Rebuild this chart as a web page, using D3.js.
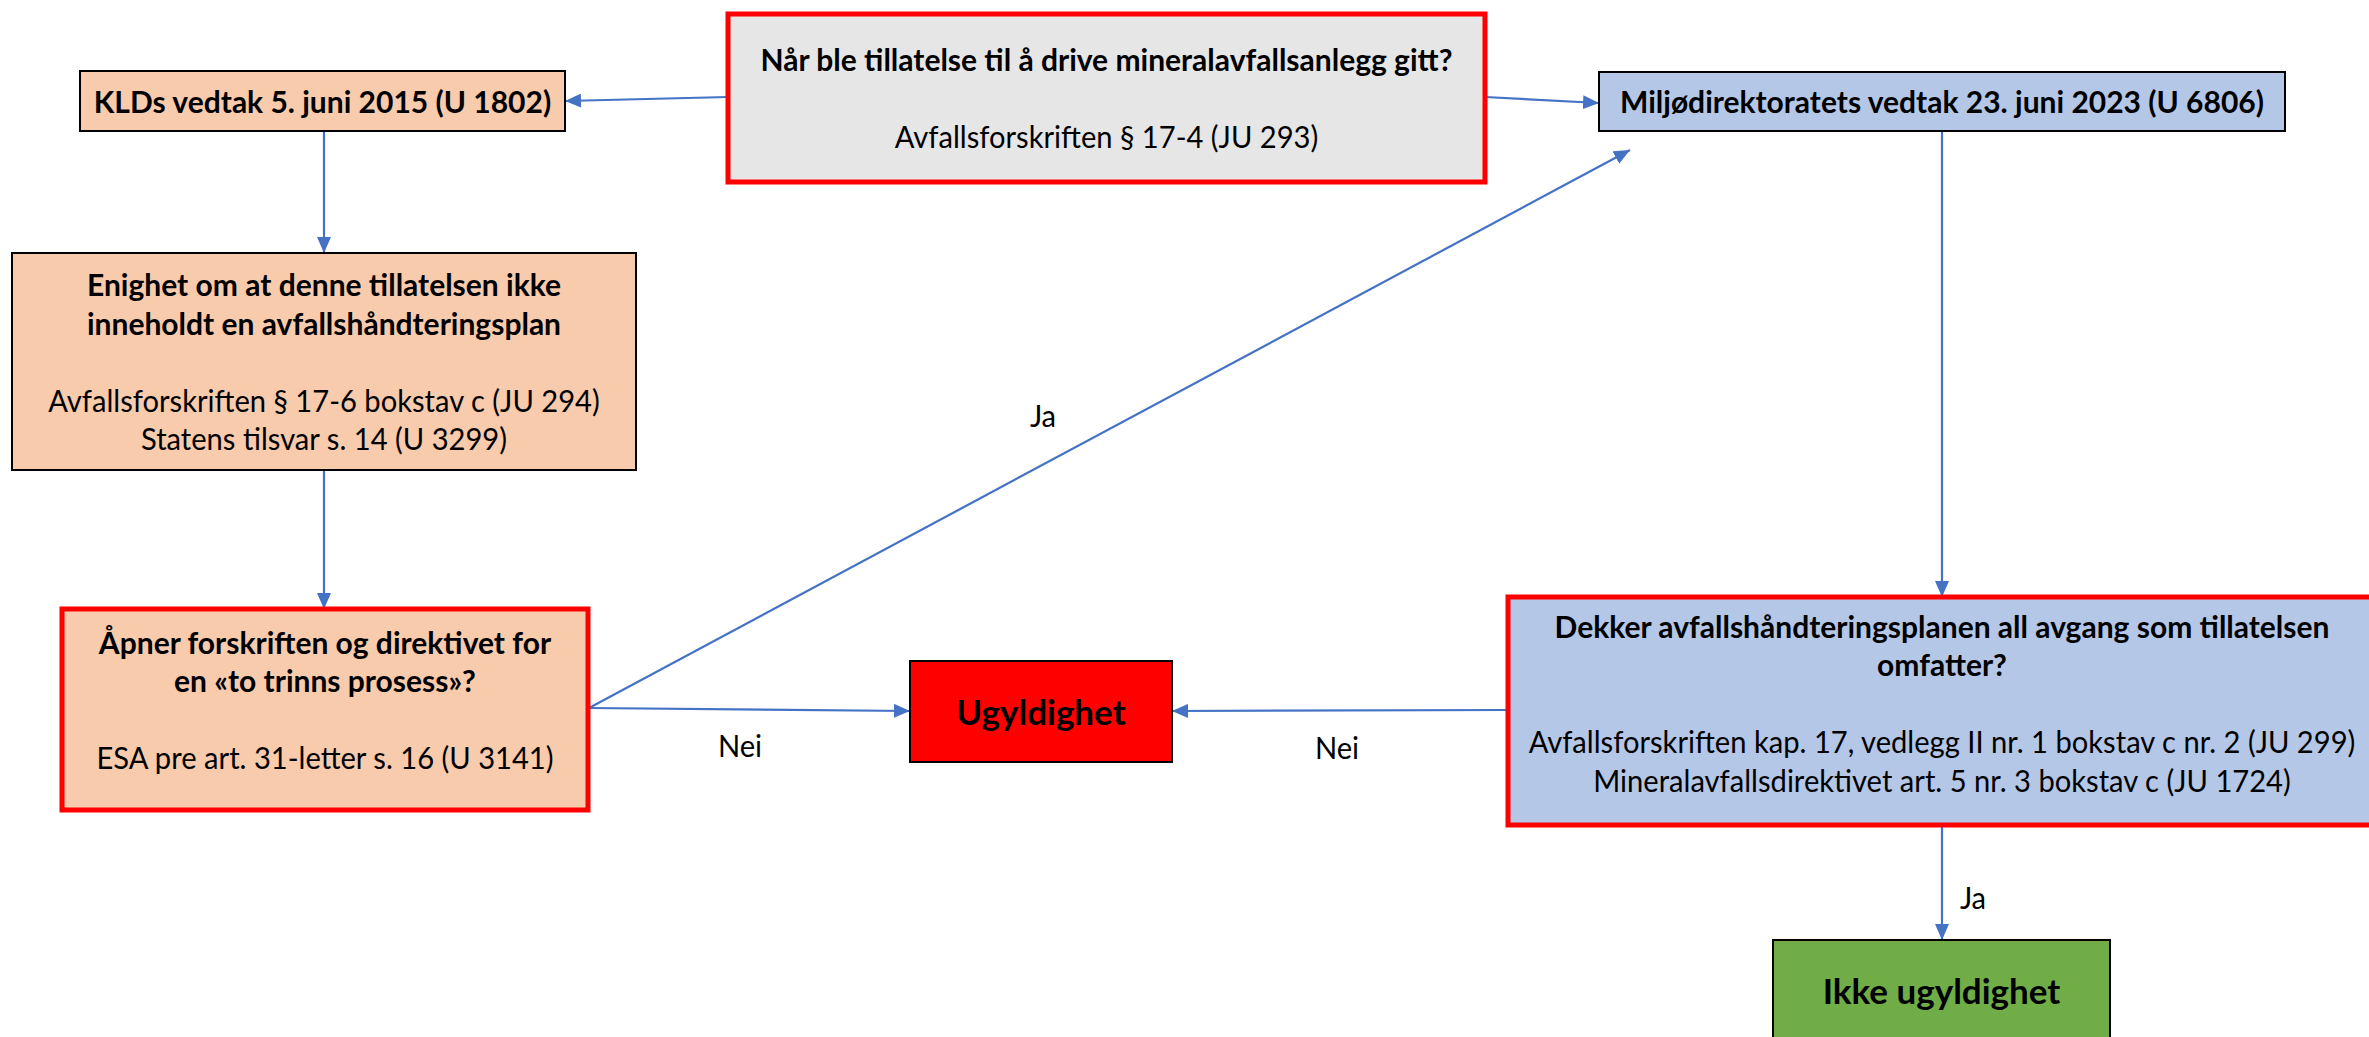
<!DOCTYPE html>
<html>
<head>
<meta charset="utf-8">
<script src="https://cdn.jsdelivr.net/npm/d3@7"></script>
<style>
  body { margin: 0; background: #fff; }
  svg { display: block; }
  text { font-family: Lato, "Noto Sans", sans-serif; fill: #000; }
</style>
</head>
<body>
<div id="chart"></div>
<script>
// --- data ---
const boxIds = ["kld", "sporsmal", "miljo", "enighet", "apner", "ugyldig", "dekker", "ikke"];
const boxTitles = [
  ["KLDs vedtak 5. juni 2015 (U 1802)"],
  ["Når ble tillatelse til å drive mineralavfallsanlegg gitt?"],
  ["Miljødirektoratets vedtak 23. juni 2023 (U 6806)"],
  ["Enighet om at denne tillatelsen ikke", "inneholdt en avfallshåndteringsplan"],
  ["Åpner forskriften og direktivet for", "en «to trinns prosess»?"],
  ["Ugyldighet"],
  ["Dekker avfallshåndteringsplanen all avgang som tillatelsen", "omfatter?"],
  ["Ikke ugyldighet"]
];
const boxRefs = [
  [],
  ["Avfallsforskriften § 17-4 (JU 293)"],
  [],
  ["Avfallsforskriften § 17-6 bokstav c (JU 294)", "Statens tilsvar s. 14 (U 3299)"],
  ["ESA pre art. 31-letter s. 16 (U 3141)"],
  [],
  ["Avfallsforskriften kap. 17, vedlegg II nr. 1 bokstav c nr. 2 (JU 299)", "Mineralavfallsdirektivet art. 5 nr. 3 bokstav c (JU 1724)"],
  []
];
const boxKinds = ["vedtak", "sporsmal", "vedtak", "vedtak", "sporsmal", "utfall", "sporsmal", "utfall"];

const edgeFrom = ["sporsmal", "sporsmal", "kld", "enighet", "apner", "apner", "miljo", "dekker", "dekker"];
const edgeTo = ["kld", "miljo", "enighet", "apner", "miljo", "ugyldig", "dekker", "ugyldig", "ikke"];
const edgeLabels = ["", "", "", "", "Ja", "Nei", "", "Nei", "Ja"];

// --- layout (pixels) ---
const W = 2369, H = 1037;
const geom = {
  kld:      { x: 80,   y: 71,  w: 485, h: 60,  fill: "#F8CBAD", stroke: "#000" },
  sporsmal: { x: 728,  y: 14,  w: 757, h: 168, fill: "#E7E6E6", stroke: "#FF0000" },
  miljo:    { x: 1599, y: 72,  w: 686, h: 59,  fill: "#B4C7E7", stroke: "#000" },
  enighet:  { x: 12,   y: 253, w: 624, h: 217, fill: "#F8CBAD", stroke: "#000" },
  apner:    { x: 62,   y: 609, w: 526, h: 201, fill: "#F8CBAD", stroke: "#FF0000" },
  ugyldig:  { x: 910,  y: 661, w: 262, h: 101, fill: "#FF0000", stroke: "#000" },
  dekker:   { x: 1508, y: 597, w: 880, h: 228, fill: "#B4C7E7", stroke: "#FF0000" },
  ikke:     { x: 1773, y: 940, w: 337, h: 110, fill: "#70AD47", stroke: "#000" }
};
// text block vertical offset inside box
const textShift = { dekker: -8, apner: -10 };
// edge anchor points [x1, y1, x2, y2]
const edgePts = [
  [728, 97, 565, 101],
  [1485, 97, 1599, 103],
  [324, 131, 324, 253],
  [324, 470, 324, 609],
  [589, 708, 1630, 150],
  [589, 708, 910, 711],
  [1942, 131, 1942, 597],
  [1508, 710, 1172, 711],
  [1942, 825, 1942, 940]
];
const labelPos = [null, null, null, null, [1043, 415], [740, 745], null, [1337, 747], [1973, 897]];

const FS = 30, FS_OUT = 35, LH = 38.5;
const ARROW = "#4472C4";

const svg = d3.select("#chart").append("svg")
  .attr("width", W).attr("height", H)
  .attr("viewBox", `0 0 ${W} ${H}`);

svg.append("defs").append("marker")
  .attr("id", "head")
  .attr("markerUnits", "userSpaceOnUse")
  .attr("viewBox", "0 0 16 14")
  .attr("refX", 16).attr("refY", 7)
  .attr("markerWidth", 16).attr("markerHeight", 14)
  .attr("orient", "auto")
  .append("path")
  .attr("d", "M0,0 L16,7 L0,14 Z")
  .attr("fill", ARROW);

// edges
const edges = edgeFrom.map((f, i) => ({ from: f, to: edgeTo[i], label: edgeLabels[i], pts: edgePts[i], lp: labelPos[i] }));

svg.append("g").attr("class", "edges")
  .selectAll("line")
  .data(edges)
  .join("line")
  .attr("x1", d => d.pts[0]).attr("y1", d => d.pts[1])
  .attr("x2", d => d.pts[2]).attr("y2", d => d.pts[3])
  .attr("stroke", ARROW)
  .attr("stroke-width", 2.2)
  .attr("marker-end", "url(#head)");

// boxes
const nodes = boxIds.map((id, i) => ({ id, title: boxTitles[i], refs: boxRefs[i], kind: boxKinds[i], g: geom[id] }));

const boxG = svg.append("g").attr("class", "boxes")
  .selectAll("g")
  .data(nodes)
  .join("g");

boxG.append("rect")
  .attr("x", d => d.g.x).attr("y", d => d.g.y)
  .attr("width", d => d.g.w).attr("height", d => d.g.h)
  .attr("fill", d => d.g.fill)
  .attr("stroke", d => d.g.stroke)
  .attr("stroke-width", d => d.kind === "sporsmal" ? 5 : 2);

const allText = [];
boxG.each(function (d) {
  const lines = d.title.map(t => ({ t, bold: true }));
  if (d.refs.length) {
    lines.push({ t: "", bold: false });
    d.refs.forEach(t => lines.push({ t, bold: false }));
  }
  // visible box centre (ikke box runs off the page)
  const boxBottom = Math.min(d.g.y + d.g.h, d.id === "ikke" ? 1040 : 1e9);
  const cy = (d.g.y + boxBottom) / 2 + (textShift[d.id] || 0);
  const cx = d.id === "dekker" ? 1942 : d.g.x + d.g.w / 2;
  const top = cy - (lines.length - 1) * LH / 2;
  const size = d.kind === "utfall" ? FS_OUT : FS;
  lines.forEach((ln, k) => {
    if (!ln.t) return;
    const t = d3.select(this).append("text")
      .attr("x", cx).attr("y", top + k * LH)
      .attr("text-anchor", "middle")
      .attr("dominant-baseline", "central")
      .style("font-size", size + "px")
      .style("font-weight", ln.bold ? 700 : 400)
      .text(ln.t);
    allText.push(t);
  });
});

// edge labels
svg.append("g").attr("class", "labels")
  .selectAll("text")
  .data(edges.filter(e => e.label))
  .join("text")
  .attr("x", d => d.lp[0]).attr("y", d => d.lp[1])
  .attr("text-anchor", "middle")
  .attr("dominant-baseline", "central")
  .style("font-size", FS + "px")
  .text(d => d.label)
  .each(function () { allText.push(d3.select(this)); });

// condense Lato towards Calibri widths (measured on reference lines)
function measure(str, weight) {
  const t = svg.append("text").style("font-size", FS + "px").style("font-weight", weight).text(str);
  const w = t.node().getComputedTextLength();
  t.remove();
  return w;
}
const kReg = 827 / measure(boxRefs[6][0], 400);
const kBold = 775 / measure(boxTitles[6][0], 700);
allText.forEach(t => {
  const bold = t.style("font-weight") === "700";
  const k = bold ? kBold : kReg;
  const x = +t.attr("x");
  t.attr("transform", `translate(${x},0) scale(${k},1) translate(${-x},0)`);
});
</script>
</body>
</html>
